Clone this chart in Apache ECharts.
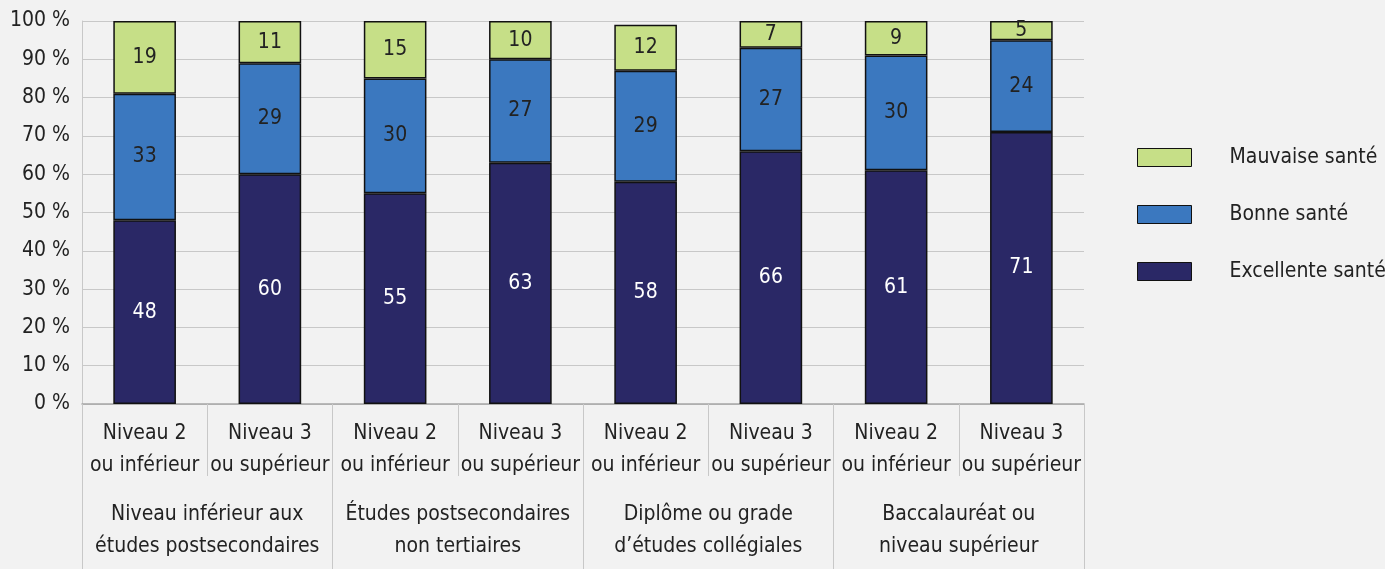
<!DOCTYPE html>
<html>
<head>
<meta charset="utf-8">
<script src="https://cdn.jsdelivr.net/npm/echarts@6/dist/echarts.min.js"></script>
<style>
  html, body { margin: 0; padding: 0; background: #f2f2f2; }
  #chart { width: 1385px; height: 569px; }
</style>
</head>
<body>
<div id="chart"></div>
<script>
// niveaux de littératie, par niveau de scolarité
const levels = [
  'Niveau 2\nou inférieur', 'Niveau 3\nou supérieur',
  'Niveau 2\nou inférieur', 'Niveau 3\nou supérieur',
  'Niveau 2\nou inférieur', 'Niveau 3\nou supérieur',
  'Niveau 2\nou inférieur', 'Niveau 3\nou supérieur'
];
const groups = [
  'Niveau inférieur aux\nétudes postsecondaires',
  'Études postsecondaires\nnon tertiaires',
  'Diplôme ou grade\nd\u2019études collégiales',
  'Baccalauréat ou\nniveau supérieur'
];
const excellente = [48, 60, 55, 63, 58, 66, 61, 71];
const bonne = [33, 29, 30, 27, 29, 27, 30, 24];
const mauvaise = [19, 11, 15, 10, 12, 7, 9, 5];

const FONT = "'Liberation Sans Narrow', 'DejaVu Sans Condensed', 'Liberation Sans', sans-serif";
const GRID_COLOR = '#c8c8c8';

const chart = echarts.init(document.getElementById('chart'));

const barSeries = (name, data, color, labelColor) => ({
  name: name,
  type: 'bar',
  stack: 'total',
  data: data,
  barWidth: '50%',
  itemStyle: { color: color, borderColor: '#111', borderWidth: 1.5 },
  label: {
    show: true,
    position: 'inside',
    color: labelColor,
    fontFamily: FONT,
    fontSize: 21
  }
});

const option = {
  backgroundColor: '#f2f2f2',
  animation: false,
  textStyle: { fontFamily: FONT },
  grid: { left: 82, top: 21, width: 1002, bottom: 165 },
  legend: {
    orient: 'vertical',
    left: 1137,
    top: 147,
    padding: 0,
    icon: 'rect',
    itemWidth: 54,
    itemHeight: 18,
    itemGap: 36,
    data: ['Mauvaise santé', 'Bonne santé', 'Excellente santé'],
    textStyle: { fontFamily: FONT, fontSize: 21, color: '#222', padding: [0, 0, 0, 33] },
    itemStyle: { borderColor: '#111', borderWidth: 1 }
  },
  xAxis: [
    {
      type: 'category',
      data: levels,
      axisLine: { lineStyle: { color: '#a6a6a6', width: 1.5 } },
      axisTick: { show: true, length: 72, lineStyle: { color: GRID_COLOR } },
      axisLabel: {
        interval: 0,
        margin: 14,
        color: '#222',
        fontFamily: FONT,
        fontSize: 21,
        lineHeight: 32
      }
    },
    {
      type: 'category',
      position: 'bottom',
      data: groups,
      axisLine: { show: false },
      axisTick: { show: true, length: 165, lineStyle: { color: GRID_COLOR } },
      axisLabel: {
        interval: 0,
        margin: 95,
        color: '#222',
        fontFamily: FONT,
        fontSize: 21,
        lineHeight: 32
      }
    }
  ],
  yAxis: {
    type: 'value',
    min: 0,
    max: 100,
    interval: 10,
    axisLine: { show: true, lineStyle: { color: GRID_COLOR } },
    axisTick: { show: false },
    splitLine: { lineStyle: { color: GRID_COLOR, width: 1 } },
    axisLabel: {
      margin: 12,
      color: '#222',
      fontFamily: FONT,
      fontSize: 21,
      formatter: v => v + ' %'
    }
  },
  series: [
    barSeries('Excellente santé', excellente, '#2a2866', '#ffffff'),
    barSeries('Bonne santé', bonne, '#3b78bf', '#222222'),
    barSeries('Mauvaise santé', mauvaise, '#c6df87', '#222222')
  ]
};

chart.setOption(option);
</script>
</body>
</html>
